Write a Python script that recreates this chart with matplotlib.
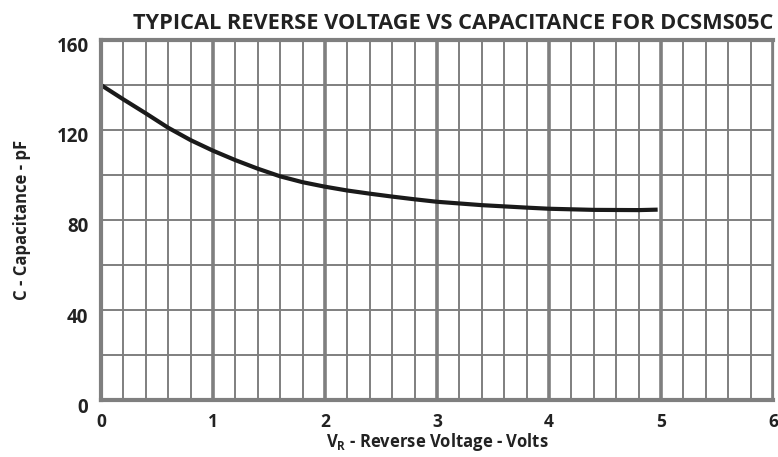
import matplotlib.pyplot as plt
import matplotlib.transforms as mtransforms
import numpy as np

# capacitance curve
voltage = [0.0, 0.2, 0.4, 0.6, 0.8, 1.0, 1.2, 1.4, 1.6, 1.8, 2.0,
           2.2, 2.4, 2.6, 2.8, 3.0, 3.4, 3.8, 4.0, 4.4, 4.8, 4.97]
capacitance = [140.0, 133.6, 127.4, 121.0, 115.5, 110.8, 106.6, 102.8, 99.4, 96.8, 94.8,
               93.1, 91.7, 90.4, 89.2, 88.1, 86.6, 85.5, 85.0, 84.5, 84.4, 84.6]

x_ticks = [0, 1, 2, 3, 4, 5, 6]
y_ticks = [0, 40, 80, 120, 160]

plt.rcParams['font.family'] = ['Open Sans', 'DejaVu Sans']
plt.rcParams['mathtext.fontset'] = 'custom'
plt.rcParams['mathtext.rm'] = 'Open Sans:bold'
plt.rcParams['mathtext.bf'] = 'Open Sans:bold'

fig = plt.figure(figsize=(7.78, 4.57), dpi=100)
ax = fig.add_axes([0.1298, 0.1247, 0.8638, 0.7878])

grey = '#7f7f7f'
ink = '#222222'
ax.set_xlim(0, 6)
ax.set_ylim(0, 160)
ax.set_xticks(x_ticks)
ax.set_yticks(y_ticks)
ax.set_xticks(np.arange(0, 6.01, 0.2), minor=True)
ax.set_yticks(np.arange(0, 160.1, 20), minor=True)
ax.grid(which='minor', color=grey, linewidth=1.4)
ax.grid(which='major', axis='x', color=grey, linewidth=2.6)
ax.grid(which='major', axis='y', color=grey, linewidth=1.4)
ax.tick_params(which='both', length=0)
ax.tick_params(axis='x', pad=9, labelsize=12.5)
ax.tick_params(axis='y', pad=9, labelsize=13.5)
for lab in ax.get_xticklabels() + ax.get_yticklabels():
    lab.set_fontweight('bold')
    lab.set_color(ink)
offset = mtransforms.ScaledTranslation(0, -5 / 100, fig.dpi_scale_trans)
for lab in ax.get_yticklabels():
    lab.set_transform(lab.get_transform() + offset)

for side in ['left', 'bottom', 'top']:
    ax.spines[side].set_color(grey)
    ax.spines[side].set_linewidth(3)
ax.spines['right'].set_color(grey)
ax.spines['right'].set_linewidth(1.6)
ax.set_axisbelow(True)

ax.plot(voltage, capacitance, color='#1a1a1a', linewidth=3, solid_capstyle='butt')

ax.set_title('TYPICAL REVERSE VOLTAGE VS CAPACITANCE FOR DCSMS05C', loc='right',
             fontsize=15.7, fontweight='bold', color=ink, pad=8)
ax.set_xlabel(r'V$_\mathregular{R}$ - Reverse Voltage - Volts', fontsize=12,
              fontweight='bold', color=ink, labelpad=0)
ax.set_ylabel('C - Capacitance - pF', fontsize=12, fontweight='bold', color=ink)
ax.yaxis.set_label_coords(-0.104, 0.5)

fig.savefig('out.png', dpi=100)
